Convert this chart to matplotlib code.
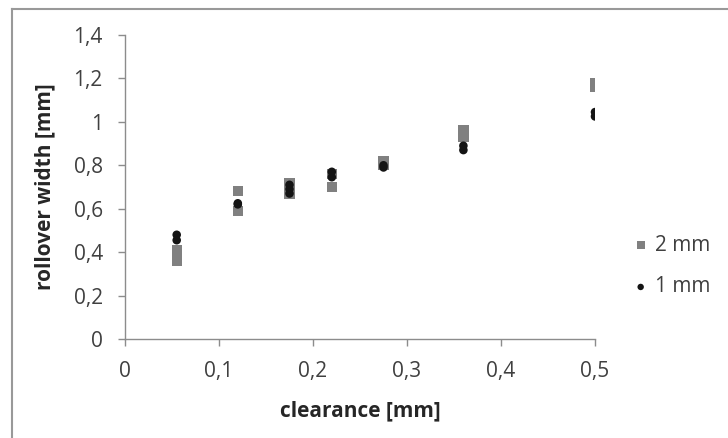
import matplotlib
matplotlib.use('Agg')
import matplotlib.pyplot as plt
from matplotlib.lines import Line2D
from matplotlib.ticker import FuncFormatter

plt.rcParams['font.family'] = ['Open Sans', 'DejaVu Sans']

# measured rollover width vs clearance
clear_2mm = [0.055, 0.055, 0.055, 0.12, 0.12, 0.175, 0.175, 0.175, 0.22, 0.22, 0.275, 0.275, 0.36, 0.36, 0.5, 0.5]
width_2mm = [0.36, 0.38, 0.41, 0.59, 0.68, 0.67, 0.70, 0.72, 0.70, 0.76, 0.80, 0.82, 0.93, 0.96, 1.16, 1.18]

clear_1mm = [0.055, 0.055, 0.12, 0.12, 0.175, 0.175, 0.175, 0.22, 0.22, 0.275, 0.275, 0.36, 0.36, 0.5, 0.5]
width_1mm = [0.455, 0.48, 0.62, 0.625, 0.67, 0.69, 0.71, 0.745, 0.77, 0.79, 0.80, 0.87, 0.89, 1.025, 1.045]

xticks = [0, 0.1, 0.2, 0.3, 0.4, 0.5]
yticks = [0, 0.2, 0.4, 0.6, 0.8, 1.0, 1.2, 1.4]

W, H = 728, 438
fig = plt.figure(figsize=(W / 100, H / 100), dpi=100)

# outer chart border (Excel style)
fig.add_artist(Line2D([12 / W, 1.0], [1 - 9 / H, 1 - 9 / H], color='#999999', lw=1.5, transform=fig.transFigure))
fig.add_artist(Line2D([12 / W, 12 / W], [0.0, 1 - 9 / H], color='#999999', lw=1.5, transform=fig.transFigure))

ax = fig.add_axes([125 / W, (H - 339) / H, 470 / W, 304 / H])

ax.scatter(clear_2mm, width_2mm, marker='s', s=55, color='#808080', edgecolors='none', label='2 mm', zorder=3)
ax.scatter(clear_1mm, width_1mm, marker='o', s=38, color='#141414', edgecolors='none', label='1 mm', zorder=4)

ax.set_xlim(0, 0.5)
ax.set_ylim(0, 1.4)
ax.set_xticks(xticks)
ax.set_yticks(yticks)


def comma(v, pos):
    s = ('%.1f' % v).rstrip('0').rstrip('.')
    return s.replace('.', ',')


ax.xaxis.set_major_formatter(FuncFormatter(comma))
ax.yaxis.set_major_formatter(FuncFormatter(comma))

for side in ['top', 'right']:
    ax.spines[side].set_visible(False)
for side in ['left', 'bottom']:
    ax.spines[side].set_color('#8c8c8c')
    ax.spines[side].set_linewidth(1.0)

ax.tick_params(axis='both', direction='out', length=5, width=1.0, color='#8c8c8c',
               labelsize=15, labelcolor='#404040', pad=11)

# axis titles placed at fixed pixel positions
fig.text(360 / W, 1 - 411 / H, 'clearance [mm]', fontsize=15, fontweight='bold',
         color='#262626', ha='center', va='center')
fig.text(45 / W, 1 - 187 / H, 'rollover width [mm]', fontsize=15, fontweight='bold',
         color='#262626', ha='center', va='center', rotation=90)

handles, labels = ax.get_legend_handles_labels()
fig.legend(handles, labels, loc='center left', bbox_to_anchor=(624 / W, 1 - 266 / H),
           frameon=False, fontsize=15, labelcolor='#404040', handlelength=0.6,
           handletextpad=0.4, labelspacing=1.0, borderpad=0, scatterpoints=1,
           markerscale=0.75)

fig.savefig('out.png', dpi=100)
